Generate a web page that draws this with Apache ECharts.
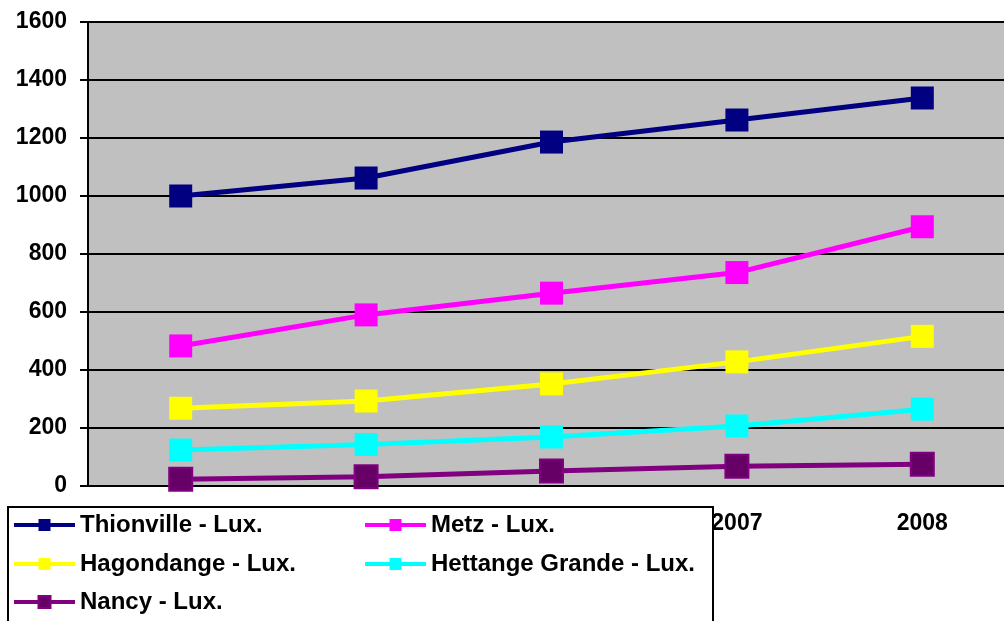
<!DOCTYPE html>
<html>
<head>
<meta charset="utf-8">
<script src="https://cdn.jsdelivr.net/npm/echarts@6/dist/echarts.min.js"></script>
<style>
  html, body { margin: 0; padding: 0; background: #fff; }
  #chart { width: 1004px; height: 621px; }
</style>
</head>
<body>
<div id="chart"></div>
<script>
const years = ['2004', '2005', '2006', '2007', '2008']
const thionville = [1000, 1062, 1186, 1262, 1338]
const metz = [483, 590, 665, 736, 894]
const hagondange = [268, 293, 352, 428, 516]
const hettange = [124, 143, 169, 207, 265]
const nancy = [23, 32, 52, 68, 75]

const names = ['Thionville - Lux.', 'Metz - Lux.', 'Hagondange - Lux.', 'Hettange Grande - Lux.', 'Nancy - Lux.']
const colors = ['#000080', '#FF00FF', '#FFFF00', '#00FFFF', '#800080']

const font = 'Liberation Sans, Arial, sans-serif'

let chart = echarts.init(document.getElementById('chart'))

function makeSeries(name, data, color, fill) {
  return {
    name: name,
    type: 'line',
    data: data,
    symbol: 'rect',
    symbolSize: 23,
    color: color,
    lineStyle: { width: 5, color: color },
    itemStyle: { color: fill || color, borderColor: color, borderWidth: fill ? 2 : 0 },
    z: 3
  }
}

// one legend per item so the two columns line up like the original box
function makeLegend(name, left, top) {
  return {
    data: [name],
    left: left, top: top,
    padding: 0,
    itemWidth: 61, itemHeight: 15,
    lineStyle: { width: 4 },
    textStyle: { fontFamily: font, fontWeight: 'bold', fontSize: 24, color: '#000' },
    z: 60
  }
}

let option = {
  animation: false,
  grid: {
    left: 88, top: 22, width: 927, bottom: 135,
    outerBoundsMode: 'none',
    show: true, backgroundColor: '#C0C0C0', borderWidth: 0
  },
  xAxis: {
    type: 'category',
    data: years,
    boundaryGap: true,
    axisLine: { lineStyle: { color: '#000', width: 2 } },
    axisTick: { length: 8, lineStyle: { color: '#000', width: 2 } },
    axisLabel: { margin: 26, fontFamily: font, fontWeight: 'bold', fontSize: 23, color: '#000' }
  },
  yAxis: {
    type: 'value',
    min: 0, max: 1600, interval: 200,
    axisLine: { show: true, lineStyle: { color: '#000', width: 2 } },
    axisTick: { show: true, length: 8, lineStyle: { color: '#000', width: 2 } },
    splitLine: { lineStyle: { color: '#000', width: 2 } },
    axisLabel: {
      margin: 21, fontFamily: font, fontWeight: 'bold', fontSize: 23, color: '#000',
      formatter: function (v) { return String(v) }
    }
  },
  graphic: [{
    type: 'rect',
    z: 50,
    shape: { x: 8, y: 507, width: 705, height: 130 },
    style: { fill: '#fff', stroke: '#000', lineWidth: 2 }
  }],
  legend: [
    makeLegend(names[0], 12, 513),
    makeLegend(names[2], 12, 552),
    makeLegend(names[4], 12, 590),
    makeLegend(names[1], 363, 513),
    makeLegend(names[3], 363, 552)
  ],
  series: [
    makeSeries(names[0], thionville, colors[0]),
    makeSeries(names[1], metz, colors[1]),
    makeSeries(names[2], hagondange, colors[2]),
    makeSeries(names[3], hettange, colors[3]),
    makeSeries(names[4], nancy, colors[4], '#660066')
  ]
}

option && chart.setOption(option)
</script>
</body>
</html>
